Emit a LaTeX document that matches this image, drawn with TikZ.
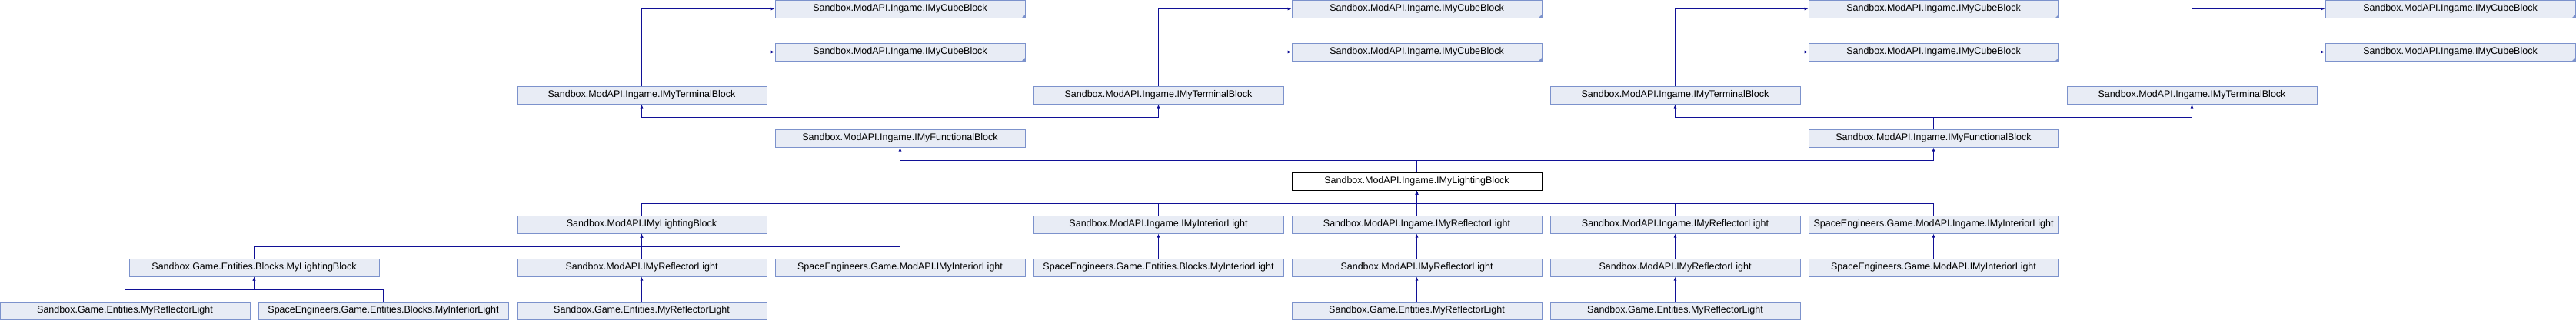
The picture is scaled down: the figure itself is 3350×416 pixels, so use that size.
\documentclass[tikz,border=0pt]{standalone}
\usepackage{fontspec}
\setmainfont{Liberation Sans}
\usetikzlibrary{arrows.meta,calc}
\definecolor{boxfill}{RGB}{232,236,245}
\definecolor{boxline}{RGB}{124,146,204}
\definecolor{edgecol}{RGB}{16,16,150}
\tikzset{
  cls/.style={draw=boxline, fill=boxfill, line width=1pt, minimum width=325pt, minimum height=23pt,
    inner sep=0pt, font=\fontsize{12.5}{14}\selectfont},
  mainbox/.style={cls, draw=black, fill=white},
  edge/.style={draw=edgecol, line width=1pt, -{Latex[length=5pt,width=4pt]}},
  bus/.style={draw=edgecol, line width=1pt}
}
\begin{document}
\begin{tikzpicture}[x=1pt,y=-1pt]
\useasboundingbox (0,0) rectangle (3350,416);
% row 0 and 1: cube blocks
\node[cls] (c3a) at (1170.5,11.5) {Sandbox.ModAPI.Ingame.IMyCubeBlock};
\node[cls] (c5a) at (1842.5,11.5) {Sandbox.ModAPI.Ingame.IMyCubeBlock};
\node[cls] (c7a) at (2514.5,11.5) {Sandbox.ModAPI.Ingame.IMyCubeBlock};
\node[cls] (c9a) at (3186.5,11.5) {Sandbox.ModAPI.Ingame.IMyCubeBlock};
\node[cls] (c3b) at (1170.5,67.5) {Sandbox.ModAPI.Ingame.IMyCubeBlock};
\node[cls] (c5b) at (1842.5,67.5) {Sandbox.ModAPI.Ingame.IMyCubeBlock};
\node[cls] (c7b) at (2514.5,67.5) {Sandbox.ModAPI.Ingame.IMyCubeBlock};
\node[cls] (c9b) at (3186.5,67.5) {Sandbox.ModAPI.Ingame.IMyCubeBlock};
\foreach \n in {c3a,c5a,c7a,c9a,c3b,c5b,c7b,c9b}
  \fill[boxline] (\n.south east) -- ++(-5,0) -- ++(5,-5) -- cycle;
% row 2: terminal blocks
\node[cls] (t2) at (834.5,123.5) {Sandbox.ModAPI.Ingame.IMyTerminalBlock};
\node[cls] (t4) at (1506.5,123.5) {Sandbox.ModAPI.Ingame.IMyTerminalBlock};
\node[cls] (t6) at (2178.5,123.5) {Sandbox.ModAPI.Ingame.IMyTerminalBlock};
\node[cls] (t8) at (2850.5,123.5) {Sandbox.ModAPI.Ingame.IMyTerminalBlock};
% row 3: functional blocks
\node[cls] (f3) at (1170.5,179.5) {Sandbox.ModAPI.Ingame.IMyFunctionalBlock};
\node[cls] (f7) at (2514.5,179.5) {Sandbox.ModAPI.Ingame.IMyFunctionalBlock};
% row 4: main
\node[mainbox] (main) at (1842.5,235.5) {Sandbox.ModAPI.Ingame.IMyLightingBlock};
% row 5
\node[cls] (m2) at (834.5,291.5) {Sandbox.ModAPI.IMyLightingBlock};
\node[cls] (ii4) at (1506.5,291.5) {Sandbox.ModAPI.Ingame.IMyInteriorLight};
\node[cls] (ir5) at (1842.5,291.5) {Sandbox.ModAPI.Ingame.IMyReflectorLight};
\node[cls] (ir6) at (2178.5,291.5) {Sandbox.ModAPI.Ingame.IMyReflectorLight};
\node[cls] (sei7) at (2514.5,291.5) {SpaceEngineers.Game.ModAPI.Ingame.IMyInteriorLight};
% row 6
\node[cls] (lb) at (330.5,347.5) {Sandbox.Game.Entities.Blocks.MyLightingBlock};
\node[cls] (r2) at (834.5,347.5) {Sandbox.ModAPI.IMyReflectorLight};
\node[cls] (se3) at (1170.5,347.5) {SpaceEngineers.Game.ModAPI.IMyInteriorLight};
\node[cls] (sb4) at (1506.5,347.5) {SpaceEngineers.Game.Entities.Blocks.MyInteriorLight};
\node[cls] (r5) at (1842.5,347.5) {Sandbox.ModAPI.IMyReflectorLight};
\node[cls] (r6) at (2178.5,347.5) {Sandbox.ModAPI.IMyReflectorLight};
\node[cls] (se7) at (2514.5,347.5) {SpaceEngineers.Game.ModAPI.IMyInteriorLight};
% row 7
\node[cls] (g0) at (162.5,403.5) {Sandbox.Game.Entities.MyReflectorLight};
\node[cls] (gi1) at (498.5,403.5) {SpaceEngineers.Game.Entities.Blocks.MyInteriorLight};
\node[cls] (g2) at (834.5,403.5) {Sandbox.Game.Entities.MyReflectorLight};
\node[cls] (g5) at (1842.5,403.5) {Sandbox.Game.Entities.MyReflectorLight};
\node[cls] (g6) at (2178.5,403.5) {Sandbox.Game.Entities.MyReflectorLight};
% bus levels
\coordinate (b2) at (0,152);
\coordinate (b3) at (0,208);
\coordinate (b4) at (0,264);
\coordinate (b5) at (0,320);
\coordinate (b6) at (0,376);
% edges: terminal -> cube
\foreach \t/\c in {t2/c3,t4/c5,t6/c7,t8/c9}{
  \draw[edge] (\t.north) |- (\c a.west);
  \draw[edge] (\t.north) |- (\c b.west);
}
% functional -> terminal
\foreach \f/\t in {f3/t2,f3/t4,f7/t6,f7/t8}
  \draw[edge] (\f.north) -- (\f.north |- b2) -| (\t.south);
% main -> functional
\foreach \t in {f3,f7}
  \draw[edge] (main.north) -- (main.north |- b3) -| (\t.south);
% row 5 -> main
\foreach \c in {m2,ii4,sei7,ir6}
  \draw[edge] (\c.north) -- (\c.north |- b4) -| (main.south);
\draw[edge] (ir5.north) -- (main.south);
% row 6 -> row 5
\foreach \c in {lb,se3}
  \draw[edge] (\c.north) -- (\c.north |- b5) -| (m2.south);
\draw[edge] (r2.north) -- (m2.south);
\draw[edge] (sb4.north) -- (ii4.south);
\draw[edge] (r5.north) -- (ir5.south);
\draw[edge] (r6.north) -- (ir6.south);
\draw[edge] (se7.north) -- (sei7.south);
% row 7 -> row 6
\foreach \c in {g0,gi1}
  \draw[edge] (\c.north) -- (\c.north |- b6) -| (lb.south);
\draw[edge] (g2.north) -- (r2.south);
\draw[edge] (g5.north) -- (r5.south);
\draw[edge] (g6.north) -- (r6.south);
\end{tikzpicture}
\end{document}
